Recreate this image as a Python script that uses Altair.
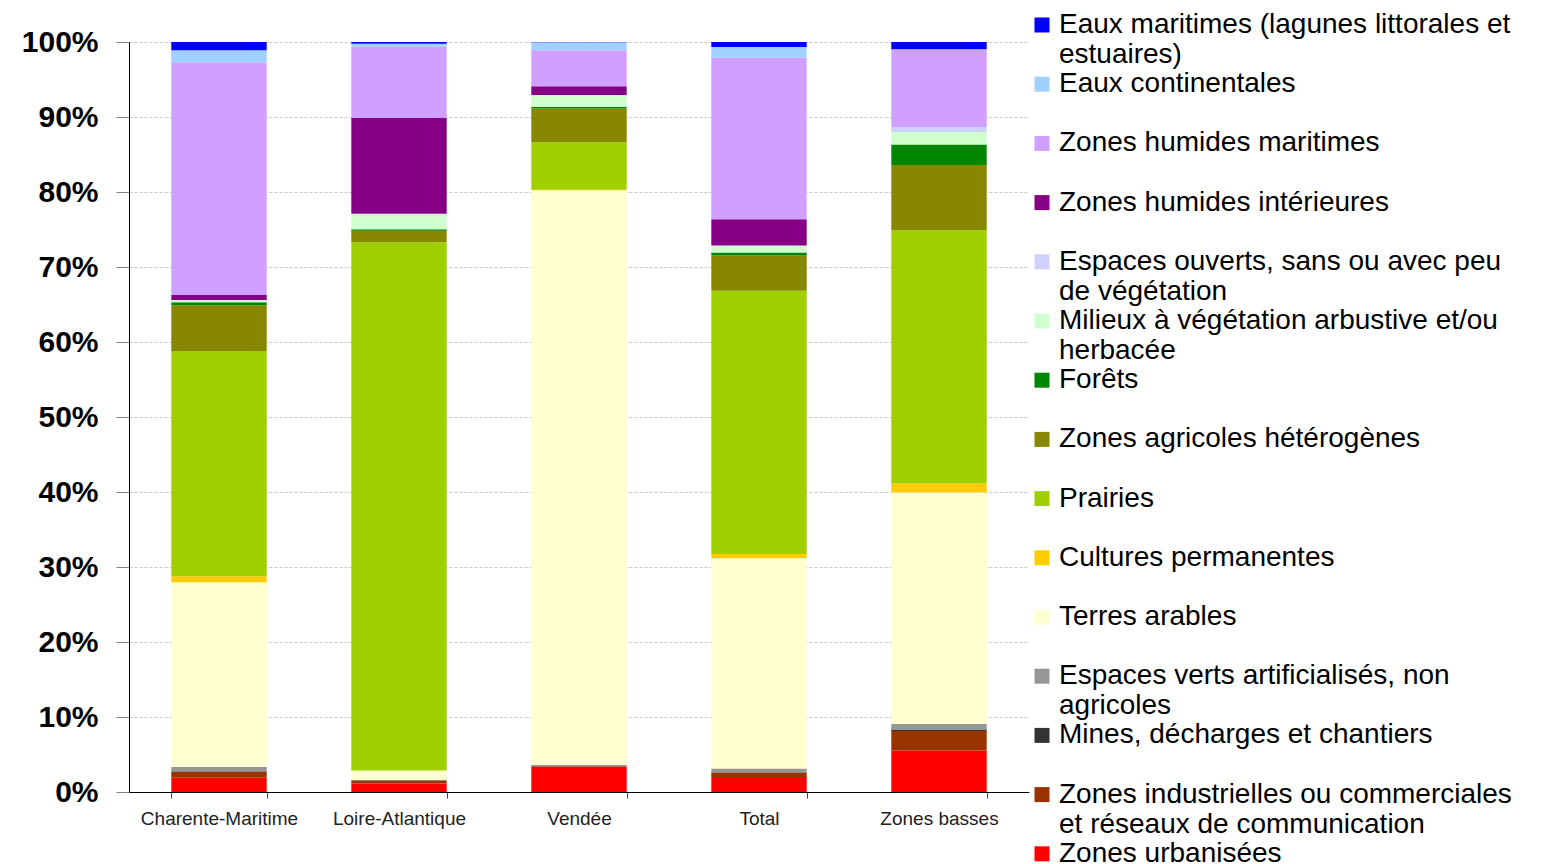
import json
import altair as alt
import pandas as pd

categories = ["Charente-Maritime", "Loire-Atlantique", "Vendée", "Total", "Zones basses"]

# series listed bottom -> top of the stack
series = [
    "Zones urbanisées",
    "Zones industrielles ou commerciales et réseaux de communication",
    "Mines, décharges et chantiers",
    "Espaces verts artificialisés, non agricoles",
    "Terres arables",
    "Cultures permanentes",
    "Prairies",
    "Zones agricoles hétérogènes",
    "Forêts",
    "Milieux à végétation arbustive et/ou herbacée",
    "Espaces ouverts, sans ou avec peu de végétation",
    "Zones humides intérieures",
    "Zones humides maritimes",
    "Eaux continentales",
    "Eaux maritimes (lagunes littorales et estuaires)",
]

colors = [
    "#FF0000", "#993300", "#333333", "#969696", "#FFFFD0", "#FFCC00",
    "#A0CF00", "#878700", "#008600", "#D0FFD0", "#D0D0FF", "#860086",
    "#D09FFF", "#A0D0FF", "#0000FF",
]

# percentages, same order as `series`
charente_maritime = [1.9, 0.8, 0.05, 0.6, 24.6, 0.8, 30.0, 6.1, 0.4, 0.27, 0.05, 0.67, 31.0, 1.6, 1.1]
loire_atlantique = [1.15, 0.4, 0.02, 0.05, 1.25, 0.02, 70.6, 1.55, 0.2, 2.05, 0.02, 12.8, 9.55, 0.35, 0.25]
vendee = [3.33, 0.1, 0.02, 0.2, 76.8, 0.05, 6.35, 4.5, 0.2, 1.55, 0.05, 1.2, 4.8, 1.07, 0.03]
total = [2.0, 0.6, 0.05, 0.5, 28.1, 0.57, 35.2, 4.7, 0.4, 0.93, 0.03, 3.5, 21.6, 1.43, 0.67]
zones_basses = [5.55, 2.6, 0.2, 0.75, 30.9, 1.2, 33.8, 8.7, 2.75, 1.65, 0.67, 0.02, 10.35, 0.02, 0.97]

values_by_cat = [charente_maritime, loire_atlantique, vendee, total, zones_basses]

# legend label line breaks
legend_lines = {
    "Eaux maritimes (lagunes littorales et estuaires)": ["Eaux maritimes (lagunes littorales et", "estuaires)"],
    "Espaces ouverts, sans ou avec peu de végétation": ["Espaces ouverts, sans ou avec peu", "de végétation"],
    "Milieux à végétation arbustive et/ou herbacée": ["Milieux à végétation arbustive et/ou", "herbacée"],
    "Espaces verts artificialisés, non agricoles": ["Espaces verts artificialisés, non", "agricoles"],
    "Zones industrielles ou commerciales et réseaux de communication": ["Zones industrielles ou commerciales", "et réseaux de communication"],
}

rows = []
for cat, vals in zip(categories, values_by_cat):
    for i, (s, v) in enumerate(zip(series, vals)):
        rows.append({"cat": cat, "serie": s, "value": v, "idx": i})
df = pd.DataFrame(rows)

legend_domain = series[::-1]
legend_range = colors[::-1]

expr = ""
for s in legend_domain:
    lines = legend_lines.get(s, [s, ""])
    expr += "datum.label == " + json.dumps(s) + " ? " + json.dumps(lines, ensure_ascii=False) + " : "
expr += "datum.label"

FONT = "Liberation Sans"

chart = alt.Chart(df).mark_bar().encode(
    x=alt.X(
        "cat:N",
        sort=categories,
        scale=alt.Scale(paddingInner=0.47, paddingOuter=0.235),
        axis=alt.Axis(
            title=None, labelAngle=0, tickBand="extent", labelFont=FONT,
            labelFontSize=19, labelColor="#222222", tickColor="#444444",
            tickSize=6, domainColor="#000000", labelPadding=11, grid=False,
        ),
    ),
    y=alt.Y(
        "value:Q",
        stack="normalize",
        scale=alt.Scale(domain=[0, 1], nice=False),
        axis=alt.Axis(
            title=None, format=".0%", values=[i / 10 for i in range(11)],
            labelFont=FONT, labelFontWeight="bold", labelFontSize=30,
            labelColor="#000000", tickColor="#808080", tickSize=13,
            labelPadding=18, domainColor="#000000", gridColor="#c8c8c8",
            gridDash=[3, 2], gridWidth=1,
        ),
    ),
    color=alt.Color(
        "serie:N",
        scale=alt.Scale(domain=legend_domain, range=legend_range),
        legend=alt.Legend(
            title=None, orient="none", legendX=899, legendY=-31,
            symbolType="square", symbolSize=225, symbolStrokeWidth=0,
            labelFont=FONT, labelFontSize=28, labelColor="#000000",
            labelOffset=3, labelLimit=600, rowPadding=1.2, labelExpr=expr,
        ),
    ),
    order=alt.Order("idx:Q", sort="ascending"),
).properties(
    width=900,
    height=750,
    padding={"left": 13, "top": 3, "right": 5, "bottom": 0},
).configure_view(stroke=None)

chart.save("out.html", embed_options={"renderer": "svg", "actions": False})
